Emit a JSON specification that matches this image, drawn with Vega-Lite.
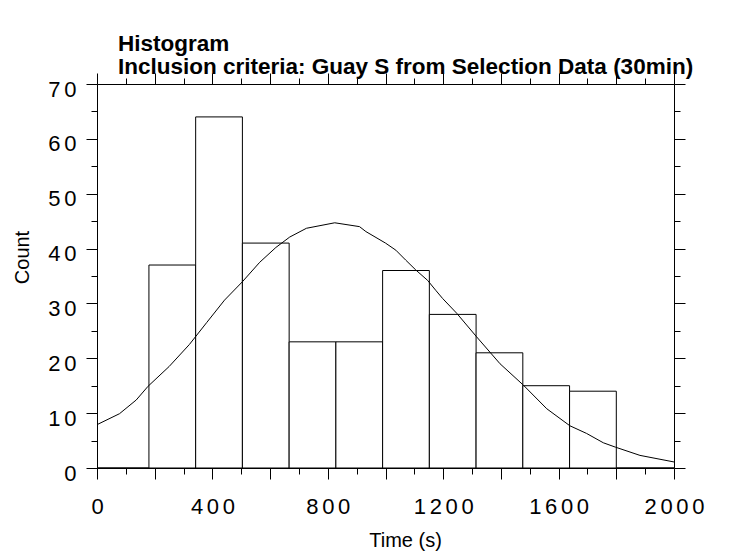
{
  "$schema": "https://vega.github.io/schema/vega-lite/v6.json",
  "width": 577,
  "height": 384,
  "autosize": "none",
  "padding": {"left": 97, "top": 84, "right": 58, "bottom": 91},
  "background": "white",
  "config": {
    "view": {"stroke": null},
    "font": "Liberation Sans",
    "axis": {
      "grid": false,
      "domainColor": "black",
      "tickColor": "black",
      "labelColor": "black",
      "titleColor": "black",
      "labelFont": "Liberation Sans",
      "titleFont": "Liberation Sans",
      "labelFontSize": 22,
      "titleFontSize": 20,
      "titleFontWeight": "normal",
      "labelFlush": false,
      "labelOverlap": false,
      "domainWidth": 1,
      "tickWidth": 1
    }
  },
  "title": {
    "text": ["Histogram", "Inclusion criteria: Guay S from Selection Data (30min)"],
    "anchor": "start",
    "frame": "group",
    "dx": 21,
    "font": "Liberation Sans",
    "fontSize": 22.5,
    "fontWeight": "bold",
    "color": "black",
    "lineHeight": 23,
    "offset": -6
  },
  "datasets": {
    "bins": [
      {"start": 0, "end": 180, "count": 0},
      {"start": 180, "end": 342, "count": 37},
      {"start": 342, "end": 504, "count": 64},
      {"start": 504, "end": 666, "count": 41},
      {"start": 666, "end": 828, "count": 23},
      {"start": 828, "end": 990, "count": 23},
      {"start": 990, "end": 1152, "count": 36},
      {"start": 1152, "end": 1314, "count": 28},
      {"start": 1314, "end": 1476, "count": 21},
      {"start": 1476, "end": 1638, "count": 15},
      {"start": 1638, "end": 1800, "count": 14},
      {"start": 1800, "end": 2000, "count": 0}
    ],
    "curve": [
      {"t": 0, "v": 7.9},
      {"t": 78, "v": 9.9},
      {"t": 136, "v": 12.4},
      {"t": 177, "v": 14.9},
      {"t": 250, "v": 18.5},
      {"t": 320, "v": 22.5},
      {"t": 380, "v": 26.5},
      {"t": 442, "v": 30.6},
      {"t": 503, "v": 33.9},
      {"t": 564, "v": 37.5},
      {"t": 620, "v": 40.2},
      {"t": 668, "v": 42.1},
      {"t": 726, "v": 43.7},
      {"t": 824, "v": 44.7},
      {"t": 910, "v": 44.0},
      {"t": 932, "v": 43.1},
      {"t": 1000, "v": 41.0},
      {"t": 1036, "v": 39.7},
      {"t": 1070, "v": 37.9},
      {"t": 1105, "v": 36.1},
      {"t": 1146, "v": 34.2},
      {"t": 1174, "v": 32.4},
      {"t": 1198, "v": 30.9},
      {"t": 1247, "v": 28.2},
      {"t": 1316, "v": 23.9},
      {"t": 1397, "v": 19.0},
      {"t": 1478, "v": 15.1},
      {"t": 1559, "v": 10.8},
      {"t": 1639, "v": 7.7},
      {"t": 1697, "v": 6.3},
      {"t": 1755, "v": 4.6},
      {"t": 1797, "v": 3.8},
      {"t": 1882, "v": 2.3},
      {"t": 2000, "v": 1.1}
    ]
  },
  "resolve": {"axis": {"x": "independent", "y": "independent"}},
  "layer": [
    {
      "data": {"name": "bins"},
      "mark": {"type": "rect", "fill": "white", "stroke": "black", "strokeWidth": 1},
      "encoding": {
        "x": {
          "field": "start", "type": "quantitative",
          "scale": {"domain": [0, 2000], "nice": false},
          "axis": {
            "orient": "bottom",
            "values": [0, 200, 400, 600, 800, 1000, 1200, 1400, 1600, 1800, 2000],
            "format": "d",
            "labelExpr": "datum.value % 400 == 0 ? join(split(datum.label, ''), '\u2006') : ''",
            "tickSize": 11,
            "labelPadding": 17,
            "title": "Time (s)",
            "titlePadding": 13,
            "titleX": 308
          }
        },
        "x2": {"field": "end"},
        "y": {
          "field": "count", "type": "quantitative",
          "scale": {"domain": [0, 70], "nice": false},
          "axis": {
            "orient": "left",
            "values": [0, 10, 20, 30, 40, 50, 60, 70],
            "format": "d",
            "labelExpr": "join(split(datum.label, ''), '\u2006')",
            "tickSize": 11,
            "labelPadding": 10,
            "labelOffset": 5,
            "title": "Count",
            "titlePadding": 15,
            "titleY": 173
          }
        },
        "y2": {"datum": 0}
      }
    },
    {
      "data": {"name": "curve"},
      "mark": {"type": "line", "color": "black", "strokeWidth": 1},
      "encoding": {
        "x": {
          "field": "t", "type": "quantitative",
          "scale": {"domain": [0, 2000], "nice": false},
          "axis": {
            "orient": "top",
            "values": [0, 200, 400, 600, 800, 1000, 1200, 1400, 1600, 1800, 2000],
            "labels": false,
            "tickSize": 11,
            "title": null
          }
        },
        "y": {
          "field": "v", "type": "quantitative",
          "scale": {"domain": [0, 70], "nice": false},
          "axis": {
            "orient": "right",
            "values": [0, 10, 20, 30, 40, 50, 60, 70],
            "labels": false,
            "tickSize": 11,
            "title": null
          }
        }
      }
    },
    {
      "data": {"name": "curve"},
      "mark": {"type": "line", "opacity": 0},
      "encoding": {
        "x": {
          "field": "t", "type": "quantitative",
          "scale": {"domain": [0, 2000], "nice": false},
          "axis": {
            "orient": "bottom",
            "values": [100, 300, 500, 700, 900, 1100, 1300, 1500, 1700, 1900],
            "labels": false,
            "domain": false,
            "tickSize": 6,
            "title": null
          }
        },
        "y": {
          "field": "v", "type": "quantitative",
          "scale": {"domain": [0, 70], "nice": false},
          "axis": {
            "orient": "left",
            "values": [5, 15, 25, 35, 45, 55, 65],
            "labels": false,
            "domain": false,
            "tickSize": 6,
            "title": null
          }
        }
      }
    },
    {
      "data": {"name": "curve"},
      "mark": {"type": "line", "opacity": 0},
      "encoding": {
        "x": {
          "field": "t", "type": "quantitative",
          "scale": {"domain": [0, 2000], "nice": false},
          "axis": {
            "orient": "top",
            "values": [100, 300, 500, 700, 900, 1100, 1300, 1500, 1700, 1900],
            "labels": false,
            "domain": false,
            "tickSize": 6,
            "title": null
          }
        },
        "y": {
          "field": "v", "type": "quantitative",
          "scale": {"domain": [0, 70], "nice": false},
          "axis": {
            "orient": "right",
            "values": [5, 15, 25, 35, 45, 55, 65],
            "labels": false,
            "domain": false,
            "tickSize": 6,
            "title": null
          }
        }
      }
    }
  ]
}
